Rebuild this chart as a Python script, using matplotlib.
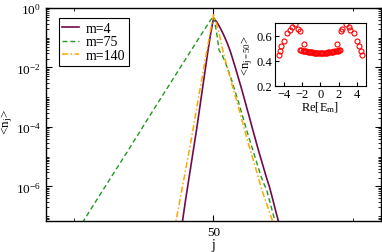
import numpy as np
import matplotlib
matplotlib.use("Agg")
from matplotlib import pyplot as plt
from matplotlib.ticker import FixedLocator, NullFormatter

plt.rcParams['font.family'] = ['Liberation Serif', 'DejaVu Serif']
plt.rcParams['mathtext.fontset'] = 'custom'
plt.rcParams['mathtext.rm'] = 'Liberation Serif'
plt.rcParams['mathtext.it'] = 'Liberation Serif:italic'
plt.rcParams['mathtext.default'] = 'regular'

# main panel: site j and log10 <n_j>
j_m4 = [38, 39, 40, 41, 42, 43, 44, 45, 46, 47, 48, 49, 50,
        51, 52, 53, 54, 55, 56, 57, 58, 59, 60, 61, 62, 63, 64,
        65, 66, 67, 68, 69, 70, 71, 72, 73, 74]
logn_m4 = [-7.75, -7.1, -6.45, -5.85, -5.25, -4.65, -4.05, -3.4, -2.75, -2.1, -1.45, -0.85, -0.35,
           -0.45, -0.6, -0.78, -0.98, -1.2, -1.45, -1.75, -2.06, -2.38, -2.7, -3.04, -3.38, -3.72, -4.07,
           -4.41, -4.75, -5.07, -5.39, -5.71, -6.0, -6.35, -6.72, -7.08, -7.45]

j_m75 = [3, 10, 20, 30, 40, 45, 49, 50,
         51, 52, 53, 54, 55, 56, 57, 58, 59, 60, 61, 62, 63,
         64, 65, 66, 67, 68, 69, 70, 71, 72, 73]
logn_m75 = [-7.22, -6.18, -4.70, -3.20, -1.72, -0.98, -0.40, -0.28,
            -0.75, -1.42, -1.57, -1.77, -2.02, -2.28, -2.58, -2.88, -3.18, -3.5, -3.82, -4.15, -4.45,
            -4.75, -5.05, -5.35, -5.65, -5.9, -6.1, -6.45, -6.8, -7.15, -7.5]

j_m140 = [36, 37, 38, 39, 40, 41, 42, 43, 44, 45, 46, 47, 48, 49, 50,
          51, 52, 53, 54, 55, 56, 57, 58, 59, 60, 61, 62, 63, 64,
          65, 66, 67, 68, 69, 70, 71, 72]
logn_m140 = [-7.45, -6.95, -6.45, -5.95, -5.45, -4.95, -4.45, -3.9, -3.35, -2.82, -2.3, -1.75, -1.25, -0.72, -0.24,
             -0.5, -0.85, -1.3, -1.68, -2.02, -2.36, -2.7, -3.02, -3.35, -3.7, -4.05, -4.4, -4.72, -5.03,
             -5.35, -5.67, -6.0, -6.3, -6.57, -6.85, -7.12, -7.4]

# inset: Re[E_m] vs <n_{j=50}>
re_E = [-4.55, -4.44, -4.26, -4.0, -3.64, -3.28, -3.10, -2.81, -2.41, -2.26, -1.82,
        -2.20, -2.07, -1.94, -1.80, -1.67, -1.54, -1.40, -1.27, -1.14, -1.00, -0.87, -0.74,
        -0.60, -0.47, -0.34, -0.20, -0.07, 0.07, 0.20, 0.34, 0.47, 0.60, 0.74, 0.87,
        1.00, 1.14, 1.27, 1.40, 1.54, 1.67, 1.80, 1.94, 2.07, 2.20,
        1.82, 2.26, 2.41, 2.81, 3.10, 3.28, 3.64, 4.0, 4.26, 4.44, 4.55]
n50 = [0.447, 0.475, 0.517, 0.558, 0.62, 0.647, 0.67, 0.692, 0.656, 0.636, 0.531,
       0.485, 0.483, 0.481, 0.479, 0.477, 0.475, 0.473, 0.471, 0.469, 0.467, 0.466, 0.465,
       0.464, 0.463, 0.462, 0.462, 0.461, 0.461, 0.462, 0.462, 0.463, 0.464, 0.465, 0.466,
       0.467, 0.469, 0.471, 0.473, 0.475, 0.477, 0.479, 0.481, 0.483, 0.485,
       0.531, 0.636, 0.656, 0.692, 0.67, 0.647, 0.62, 0.558, 0.517, 0.475, 0.447]

purple = '#6e0b4f'
green = '#1f9a1f'
orange = '#ffa500'

fig = plt.figure(figsize=(3.82, 2.53), dpi=100)
ax = fig.add_axes([0.1204, 0.1225, 0.877, 0.842])

ax.plot(j_m4, 10**np.array(logn_m4), color=purple, lw=1.2, label='m=4')
ax.plot(j_m75, 10**np.array(logn_m75), color=green, lw=1.0, dashes=(3.5, 2.2), label='m=75')
ax.plot(j_m140, 10**np.array(logn_m140), color=orange, lw=1.1, dashes=(4, 1.6, 1, 1.6), label='m=140')

ax.set_yscale('log')
ax.set_xlim(-10, 110)
ax.set_ylim(10**-7.16, 1)
ax.set_xticks([50])
ax.xaxis.set_minor_locator(FixedLocator([0, 100]))
ax.yaxis.set_major_locator(FixedLocator([1, 1e-2, 1e-4, 1e-6]))
minors = [s * 10.0**k for k in range(-8, 0) for s in range(1, 10)]
minors = [v for v in minors if v not in (1, 1e-2, 1e-4, 1e-6, 1e-8)]
ax.yaxis.set_minor_locator(FixedLocator(minors))
ax.yaxis.set_minor_formatter(NullFormatter())
ax.tick_params(which='both', direction='in', top=True, right=True, labelsize=9.5)
ax.tick_params(which='major', length=4.5, width=0.8)
ax.tick_params(which='minor', length=2.5, width=0.6)
for s in ax.spines.values():
    s.set_linewidth(1.0)
ax.set_xlabel('j', fontsize=10, labelpad=0)
ax.set_ylabel('<n$_j$>', fontsize=9.5)
ax.yaxis.set_label_coords(-0.094, 0.47)

leg = ax.legend(loc='upper left', bbox_to_anchor=(0.03, 0.965), fontsize=10,
                handlelength=1.2, handletextpad=0.5, borderpad=0.25,
                labelspacing=0.05, borderaxespad=0.2, fancybox=False, framealpha=1)
leg.get_frame().set_edgecolor('black')
leg.get_frame().set_linewidth(0.8)

ins = fig.add_axes([0.719, 0.657, 0.239, 0.248])
ins.plot(re_E, n50, 'o', color='red', mfc='none', ms=3.6, mew=0.8, ls='none')
ins.set_xlim(-5, 5)
ins.set_ylim(0.2, 0.7)
ins.set_xticks([-4, -2, 0, 2, 4])
ins.set_yticks([0.2, 0.4, 0.6])
ins.tick_params(direction='in', labelsize=9, length=3, pad=1.5)
ins.set_xlabel('Re[E$_m$]', fontsize=9, labelpad=0)
ins.set_ylabel('<n$_{j=50}$>', fontsize=9, labelpad=1)

fig.savefig('out.png', dpi=100)
